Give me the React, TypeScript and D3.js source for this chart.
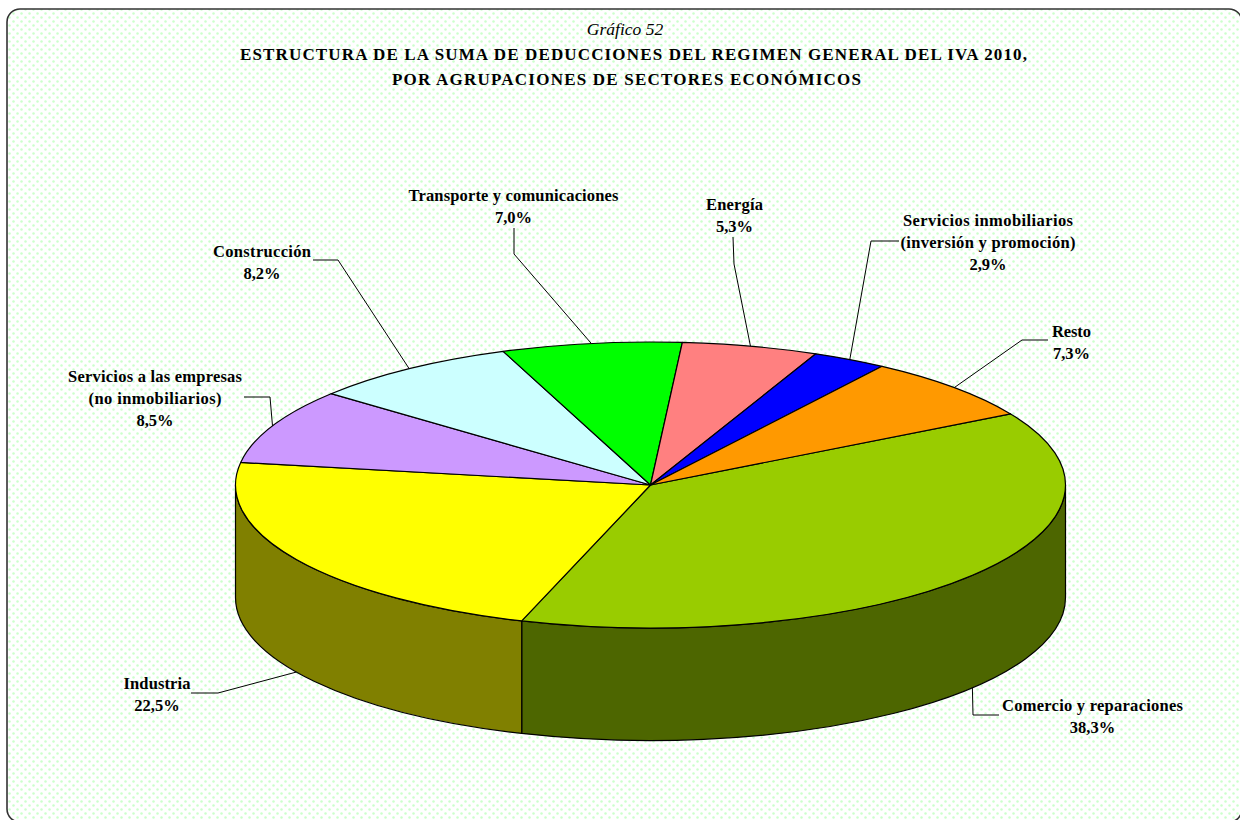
import React from "react";
import * as d3 from "d3";

const categories = ["Comercio y reparaciones", "Industria", "Servicios a las empresas", "Construcción", "Transporte y comunicaciones", "Energía", "Servicios inmobiliarios", "Resto"];
const values = [38.3, 22.5, 8.5, 8.2, 7.0, 5.3, 2.9, 7.3];
const valueLabels = ["38,3%", "22,5%", "8,5%", "8,2%", "7,0%", "5,3%", "2,9%", "7,3%"];
const subLabels: Record<string, string> = {
  "Servicios a las empresas": "(no inmobiliarios)",
  "Servicios inmobiliarios": "(inversión y promoción)",
};
const topColors = ["#99cc00", "#ffff00", "#cc99ff", "#ccffff", "#00ff00", "#ff8080", "#0000ff", "#ff9900"];
const sideColors = ["#4d6600", "#808000", "#664c80", "#668080", "#008000", "#804040", "#000080", "#804c00"];
const titleLines = [
  "ESTRUCTURA DE LA SUMA DE DEDUCCIONES DEL REGIMEN GENERAL DEL IVA 2010,",
  "POR AGRUPACIONES DE SECTORES ECONÓMICOS",
];
const chartNumber = "Gráfico 52";

// layout of the pie
const cx = 650.5, cy = 485, rx = 415, ry = 143, depth = 112.5;
const startDeg = 60.2;

// layout of each label: text centre, first baseline, line step, elbow + start of leader
const labelLayout = [
  { x: 1092.5, y: 711, w: 181, start: [999, 715], elbow: [973, 715] },
  { x: 157, y: 688.5, w: 67, start: [191, 693], elbow: [218, 693] },
  { x: 155, y: 382, w: 174, start: [244, 397], elbow: [270, 397] },
  { x: 262, y: 257, w: 98, start: [313, 260], elbow: [338, 260] },
  { x: 513.5, y: 200.5, w: 210, start: [514, 228], elbow: [514, 254] },
  { x: 734.5, y: 209.5, w: 57, start: [733, 237], elbow: [734, 264] },
  { x: 988, y: 226, w: 170, start: [899, 241], elbow: [871, 241] },
  { x: 1071.5, y: 337, w: 39, start: [1048, 340], elbow: [1022, 340] },
];
const subWidths: Record<string, number> = { "Servicios a las empresas": 133, "Servicios inmobiliarios": 175 };

const rad = (d: number) => (d * Math.PI) / 180;
const px = (a: number) => cx + rx * Math.sin(a);
const py = (a: number) => cy - ry * Math.cos(a);

export default function App() {
  const pie = d3.pie<number>().sort(null).value((d) => d)
    .startAngle(rad(startDeg)).endAngle(rad(startDeg + 360));
  const arcs = pie(values);
  const arc = d3.arc<d3.PieArcDatum<number>>().innerRadius(0).outerRadius(rx);

  const sidePaths = arcs.map((s, i) => {
    const a0 = Math.max(s.startAngle, Math.PI / 2);
    const a1 = Math.min(s.endAngle, (3 * Math.PI) / 2);
    if (a1 <= a0) return null;
    const d = `M${px(a0)},${py(a0)} A${rx},${ry} 0 0 1 ${px(a1)},${py(a1)} L${px(a1)},${py(a1) + depth} A${rx},${ry} 0 0 0 ${px(a0)},${py(a0) + depth} Z`;
    return <path key={i} d={d} fill={sideColors[i]} stroke="#000" strokeWidth={1.2} strokeLinejoin="round" />;
  });

  const line = d3.line();
  const serif = "'Liberation Serif', 'Times New Roman', serif";

  return (
    <svg width={1240} height={820} viewBox="0 0 1240 820" style={{ position: "absolute", left: 0, top: 0, display: "block" }} fontFamily={serif}>
      <defs>
        <pattern id="dots" width={8} height={8} patternUnits="userSpaceOnUse">
          <rect width={8} height={8} fill="#fff" />
          <circle cx={1.5} cy={1.5} r={1.25} fill="#ccffcc" />
          <circle cx={5.5} cy={5.5} r={1.25} fill="#ccffcc" />
        </pattern>
      </defs>
      <rect width={1240} height={820} fill="#fff" />
      <rect x={7} y={9} width={1235} height={813} rx={13} ry={13} fill="url(#dots)" stroke="#333" strokeWidth={1.6} />

      <text x={625} y={35} textAnchor="middle" fontSize={17.5} fontStyle="italic" fill="#000">{chartNumber}</text>
      {titleLines.map((t, i) => (
        <text key={t} x={i === 0 ? 633.5 : 626.5} y={59.5 + i * 25} textAnchor="middle" fontSize={17} fontWeight="bold" fill="#000"
          textLength={i === 0 ? 787 : 469} lengthAdjust="spacing">{t}</text>
      ))}

      {sidePaths}
      <g transform={`translate(${cx},${cy}) scale(1,${ry / rx})`}>
        {arcs.map((s, i) => (
          <path key={i} d={arc(s) ?? ""} fill={topColors[i]} stroke="#000" strokeWidth={1.2} strokeLinejoin="round" vectorEffect="non-scaling-stroke" />
        ))}
      </g>

      {arcs.map((s, i) => {
        const mid = (s.startAngle + s.endAngle) / 2;
        const l = labelLayout[i];
        const front = i < 2;
        const end: [number, number] = [px(mid), py(mid) + (front ? depth : 0)];
        const sub = subLabels[categories[i]];
        const rows = sub ? [categories[i], sub, valueLabels[i]] : [categories[i], valueLabels[i]];
        return (
          <g key={categories[i]}>
            <path d={line([l.start as [number, number], l.elbow as [number, number], end]) ?? ""} fill="none" stroke="#000" strokeWidth={1} />
            {rows.map((r, j) => {
              const isName = j < rows.length - 1;
              const w = j === 0 ? l.w : isName ? subWidths[categories[i]] : undefined;
              return (
                <text key={j} x={l.x} y={l.y + j * 22} textAnchor="middle" fontSize={16.5} fontWeight="bold" fill="#000"
                  {...(w ? { textLength: w, lengthAdjust: "spacing" } : {})}>{r}</text>
              );
            })}
          </g>
        );
      })}
    </svg>
  );
}
